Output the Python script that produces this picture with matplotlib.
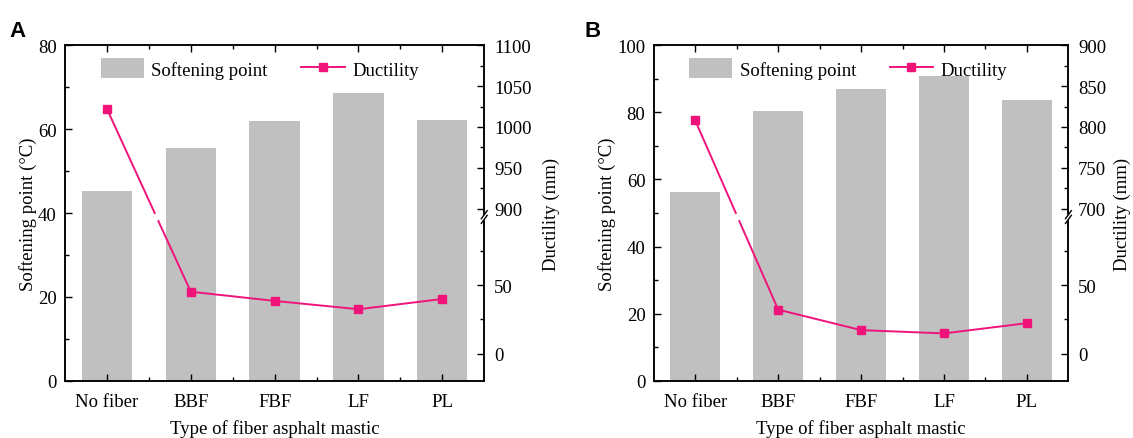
import matplotlib.pyplot as plt
from matplotlib.patches import Patch, Rectangle
from matplotlib.lines import Line2D
import numpy as np

plt.rcParams['font.family'] = ['Liberation Serif', 'DejaVu Serif']

categories = ['No fiber', 'BBF', 'FBF', 'LF', 'PL']
soft_a = [45.3, 55.5, 61.9, 68.5, 62.2]
duct_a = [1022, 45.3, 38.6, 32.5, 40.0]
soft_b = [56.2, 80.5, 86.8, 90.8, 83.7]
duct_b = [808, 32.2, 17.2, 14.8, 22.3]

bar_col = '#c0c0c0'
line_col = '#f0147a'
FS = 13.5
FB = 0.488  # fraction of axis height where the break sits


def to_frac(v, low, high):
    # piecewise mapping of ductility to axis fraction (broken axis)
    v = np.asarray(v, dtype=float)
    lo = (v - low[0]) / (low[1] - low[0]) * FB
    hi = FB + (v - high[0]) / (high[1] - high[0]) * (1 - FB)
    return np.where(v <= low[1], lo, hi)


def panel(ax, soft, duct, ymax, high, up_ticks, rpad):
    x = np.arange(len(categories))
    ax.bar(x, soft, width=0.6, color=bar_col, zorder=1)
    ax.set_xlim(-0.5, 4.5)
    ax.set_ylim(0, ymax)
    ax.set_xticks(x)
    ax.set_xticklabels(categories, fontsize=FS)
    ax.set_xticks(x[:-1] + 0.5, minor=True)
    step = 20
    ax.set_yticks(np.arange(0, ymax + 1, step))
    ax.set_yticks(np.arange(step / 2, ymax, step), minor=True)
    ax.tick_params(axis='both', which='both', direction='in', top=True, labelsize=FS)
    ax.tick_params(which='major', length=5, width=1)
    ax.tick_params(which='minor', length=3, width=1)
    ax.tick_params(axis='x', which='major', pad=9)
    ax.tick_params(axis='y', which='major', pad=6)
    ax.tick_params(axis='y', which='both', right=False)
    ax.set_xlabel('Type of fiber asphalt mastic', fontsize=FS, labelpad=6)
    ax.set_ylabel('Softening point (°C)', fontsize=FS, labelpad=1)

    low = (-20, 100)
    ax2 = ax.twinx()
    ax2.set_ylim(0, 1)
    maj = [0, 50] + up_ticks
    mnr = [25, 75] + [t + 25 for t in up_ticks[:-1]]
    ax2.set_yticks(to_frac(maj, low, high))
    ax2.set_yticklabels([str(t) for t in maj], fontsize=FS)
    ax2.set_yticks(to_frac(mnr, low, high), minor=True)
    ax2.tick_params(axis='y', which='both', direction='in')
    ax2.tick_params(which='major', length=5, width=1, pad=7)
    ax2.tick_params(which='minor', length=3, width=1)
    ax2.set_ylabel('Ductility (mm)', fontsize=FS, labelpad=rpad)

    fy = to_frac(duct, low, high)
    # split the first segment around the break
    x0, y0, x1, y1 = x[0], fy[0], x[1], fy[1]
    g = 0.012
    t_a = (y0 - (FB + g)) / (y0 - y1)
    t_b = (y0 - (FB - g)) / (y0 - y1)
    ax2.plot([x0, x0 + t_a * (x1 - x0)], [y0, y0 + t_a * (y1 - y0)],
             color=line_col, lw=1.4, zorder=3)
    ax2.plot([x0 + t_b * (x1 - x0), x1], [y0 + t_b * (y1 - y0), y1],
             color=line_col, lw=1.4, zorder=3)
    ax2.plot(x[1:], fy[1:], color=line_col, lw=1.4, zorder=3)
    ax2.plot(x, fy, ls='none', marker='s', ms=6, color=line_col, zorder=4)

    # break marks on right spine
    tr = ax2.get_yaxis_transform()
    ax2.add_patch(Rectangle((0.993, FB - 0.007), 0.02, 0.014, transform=tr,
                            color='white', clip_on=False, zorder=5))
    for dy in (-0.007, 0.007):
        ax2.plot([0.993, 1.007], [FB + dy - 0.012, FB + dy + 0.012], transform=tr,
                 color='black', lw=1, clip_on=False, zorder=6)

    for s in list(ax.spines.values()) + list(ax2.spines.values()):
        s.set_linewidth(1.1)

    handles = [Patch(facecolor=bar_col, edgecolor='none'),
               Line2D([], [], color=line_col, lw=1.4, marker='s', ms=6)]
    ax.legend(handles, ['Softening point', 'Ductility'], loc='center left',
              bbox_to_anchor=(0.085, 0.93), ncol=2, frameon=False, fontsize=FS,
              handlelength=2.3, handleheight=1.25, columnspacing=1.8,
              handletextpad=0.4, borderpad=0, borderaxespad=0)


fig = plt.figure(figsize=(11.33, 4.39), dpi=100)
axA = fig.add_axes([0.0574, 0.130, 0.370, 0.765])
axB = fig.add_axes([0.577, 0.130, 0.366, 0.765])

panel(axA, soft_a, duct_a, 80, (890, 1100), [900, 950, 1000, 1050, 1100], 8)
panel(axB, soft_b, duct_b, 100, (690, 900), [700, 750, 800, 850, 900], 5)

fig.text(0.008, 0.915, 'A', fontsize=16, fontweight='bold', family='Liberation Sans')
fig.text(0.516, 0.915, 'B', fontsize=16, fontweight='bold', family='Liberation Sans')

fig.savefig('out.png', dpi=100)
